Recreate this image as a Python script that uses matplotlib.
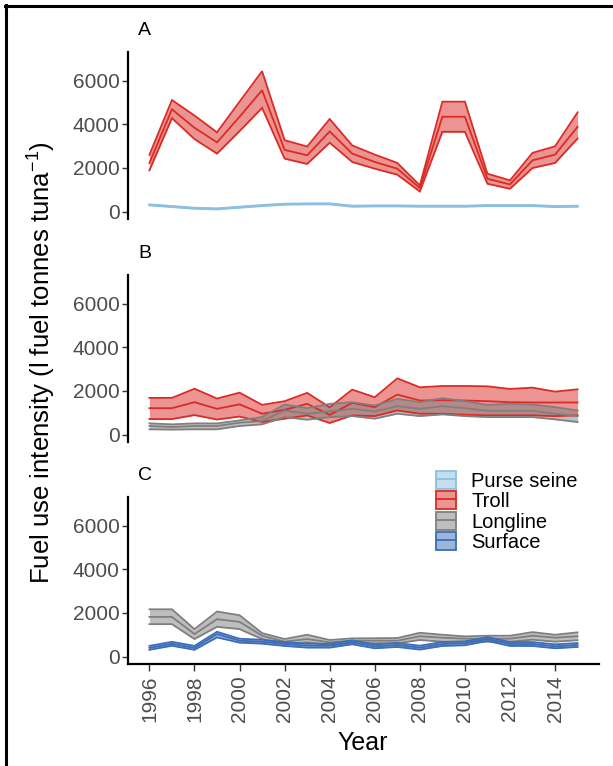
import matplotlib
matplotlib.use('Agg')
import matplotlib.pyplot as plt
from matplotlib.lines import Line2D
from matplotlib.patches import Patch
from matplotlib.legend_handler import HandlerTuple

plt.rcParams['font.family'] = ['Liberation Sans', 'DejaVu Sans']
plt.rcParams['mathtext.fontset'] = 'custom'
plt.rcParams['mathtext.rm'] = 'Liberation Sans'
plt.rcParams['mathtext.it'] = 'Liberation Sans:italic'
plt.rcParams['mathtext.default'] = 'regular'

years = list(range(1996, 2016))

# ---- Panel A ----
purseA_mid = [307, 230, 153, 123, 200, 276, 338, 353, 353, 246, 261, 261, 246, 246, 246, 276, 276, 276, 230, 246]
purseA_up  = [332, 255, 178, 148, 225, 301, 363, 378, 378, 271, 286, 286, 271, 271, 271, 301, 301, 301, 255, 271]
purseA_lo  = [282, 205, 128,  98, 175, 251, 313, 328, 328, 221, 236, 236, 221, 221, 221, 251, 251, 251, 205, 221]

trollA_up  = [2600, 5110, 4400, 3630, 5035, 6430, 3270, 2980, 4240, 3030, 2610, 2230, 1200, 5035, 5035, 1735, 1430, 2690, 2990, 4545]
trollA_mid = [2226, 4682, 3840, 3170, 4344, 5560, 2825, 2579, 3670, 2655, 2272, 1965, 1075, 4344, 4344, 1504, 1243, 2349, 2609, 3884]
trollA_lo  = [1888, 4280, 3320, 2655, 3684, 4750, 2425, 2180, 3155, 2272, 1965, 1688,  921, 3653, 3653, 1274, 1044, 1996, 2226, 3346]

# ---- Panel B ----
trollB_up  = [1680, 1680, 2100, 1650, 1920, 1362, 1530, 1910, 1250, 2060, 1711, 2574, 2165, 2226, 2226, 2211, 2090, 2150, 1968, 2074]
trollB_mid = [1210, 1210, 1483, 1180, 1385,  954, 1135, 1408,  900, 1454, 1256, 1832, 1560, 1574, 1560, 1530, 1483, 1470, 1470, 1470]
trollB_lo  = [ 711,  711,  893,  690,  825,  574,  726,  878,  530,  878,  847, 1105,  954,  954,  909,  880,  880,  880,  847,  878]

longB_up  = [513, 469, 513, 513, 650, 800, 1377, 1210, 1408, 1483, 1332, 1635, 1483, 1665, 1529, 1362, 1408, 1377, 1256, 1105]
longB_mid = [393, 347, 393, 393, 545, 620, 1105,  954, 1060, 1180, 1060, 1302, 1180, 1302, 1210, 1090, 1090, 1090,  954,  847]
longB_lo  = [241, 227, 241, 241, 393, 469,  800,  682,  800,  847,  727,  954,  847,  924,  847,  800,  800,  800,  696,  574]

# ---- Panel C ----
longC_up  = [2166, 2166, 1258, 2063, 1894, 1076, 803, 1000, 758, 834, 840, 849, 1090, 1000, 925, 955, 955, 1120, 1000, 1110]
longC_mid = [1818, 1818, 1031, 1712, 1591,  955, 682,  803, 652, 727, 727, 727,  930,  864, 820, 820, 820,  955,  864,  930]
longC_lo  = [1485, 1485,  803, 1364, 1258,  803, 576,  652, 530, 607, 606, 607,  760,  682, 680, 682, 682,  773,  682,  750]

surfC_mid = [400, 585, 400, 1030, 727, 682, 576, 500, 500, 652, 470, 530, 409, 576, 607, 803, 576, 576, 470, 530]
surfC_up  = [490, 675, 490, 1136, 817, 772, 666, 590, 590, 742, 560, 620, 499, 666, 697, 893, 666, 666, 560, 620]
surfC_lo  = [310, 495, 310,  879, 637, 592, 486, 410, 410, 562, 380, 440, 319, 486, 517, 713, 486, 486, 380, 440]

gear_names = ['Purse seine', 'Troll', 'Longline', 'Surface']
line_cols = {'Purse seine': '#8DBFE0', 'Troll': '#DB2B24', 'Longline': '#7F7F7F', 'Surface': '#3B6DB8'}
y_ticks = [0, 2000, 4000, 6000]
x_ticks = list(range(1996, 2015, 2))

W, H = 613, 766
fig = plt.figure(figsize=(W / 100, H / 100), dpi=100)

left = 128 / W
width = (599 - 128) / W
panel_h = 167 / H
bottoms = [1 - 219 / H, 1 - 442 / H, 1 - 664 / H]
labels = ['A', 'B', 'C']

panels = [
    [('Purse seine', purseA_lo, purseA_mid, purseA_up), ('Troll', trollA_lo, trollA_mid, trollA_up)],
    [('Troll', trollB_lo, trollB_mid, trollB_up), ('Longline', longB_lo, longB_mid, longB_up)],
    [('Longline', longC_lo, longC_mid, longC_up), ('Surface', surfC_lo, surfC_mid, surfC_up)],
]

axes = []
for i, (b, lab, series) in enumerate(zip(bottoms, labels, panels)):
    ax = fig.add_axes([left, b, width, panel_h])
    axes.append(ax)
    for name, lo, mid, up in series:
        c = line_cols[name]
        lw = 1.3
        ax.fill_between(years, lo, up, color=c, alpha=0.5, linewidth=0)
        ax.plot(years, lo, color=c, lw=lw, solid_joinstyle='miter')
        ax.plot(years, up, color=c, lw=lw, solid_joinstyle='miter')
        ax.plot(years, mid, color=c, lw=lw, solid_joinstyle='miter')
    ax.set_xlim(1995.05, 2015.95)
    ax.set_ylim(-340, 7310)
    ax.set_yticks(y_ticks)
    ax.set_yticklabels([str(v) for v in y_ticks])
    ax.tick_params(axis='y', length=4.5, width=1, color='#333333', labelsize=15,
                   labelcolor='#4D4D4D', pad=1.5)
    for s in ['top', 'right']:
        ax.spines[s].set_visible(False)
    ax.spines['left'].set_linewidth(1.6)
    ax.spines['left'].set_color('black')
    if i < 2:
        ax.spines['bottom'].set_visible(False)
        ax.set_xticks([])
    else:
        ax.spines['bottom'].set_linewidth(1.6)
        ax.spines['bottom'].set_color('black')
        ax.set_xticks(x_ticks)
        ax.set_xticklabels([str(v) for v in x_ticks], rotation=90)
        ax.tick_params(axis='x', length=5, width=1, color='#333333', labelsize=15,
                       labelcolor='#4D4D4D', pad=3)
    ax.text((138 - 128) / (599 - 128), 1 + 13 / 167, lab, transform=ax.transAxes,
            fontsize=14, ha='left', va='bottom')

# legend
handles = []
for name in gear_names:
    c = line_cols[name]
    handles.append((Patch(facecolor=c, alpha=0.5, edgecolor='none'),
                    Patch(facecolor='none', edgecolor=c, linewidth=1.3),
                    Line2D([0], [0], color=c, lw=1.3)))
leg = axes[2].legend(handles, gear_names, handler_map={tuple: HandlerTuple(ndivide=1, pad=0)},
                     loc='upper left', bbox_to_anchor=(436 / W, 1 - 471 / H),
                     bbox_transform=fig.transFigure, frameon=False, fontsize=14.5,
                     handlelength=1.0, handleheight=1.0, handletextpad=0.75,
                     labelspacing=0.02, borderpad=0, borderaxespad=0)

fig.text(42 / W, 1 - 363 / H, 'Fuel use intensity (l fuel tonnes tuna$^{-1}$)',
         rotation=90, ha='center', va='center', fontsize=18.5)
fig.text(363 / W, 1 - 743 / H, 'Year', ha='center', va='center', fontsize=18)

# outer frame lines (top and left)
fig.add_artist(Line2D([5 / W, 1], [1 - 6 / H, 1 - 6 / H], color='black', lw=2.2, transform=fig.transFigure))
fig.add_artist(Line2D([6 / W, 6 / W], [0, 1 - 5 / H], color='black', lw=2.2, transform=fig.transFigure))

fig.savefig('out.png', dpi=100)
